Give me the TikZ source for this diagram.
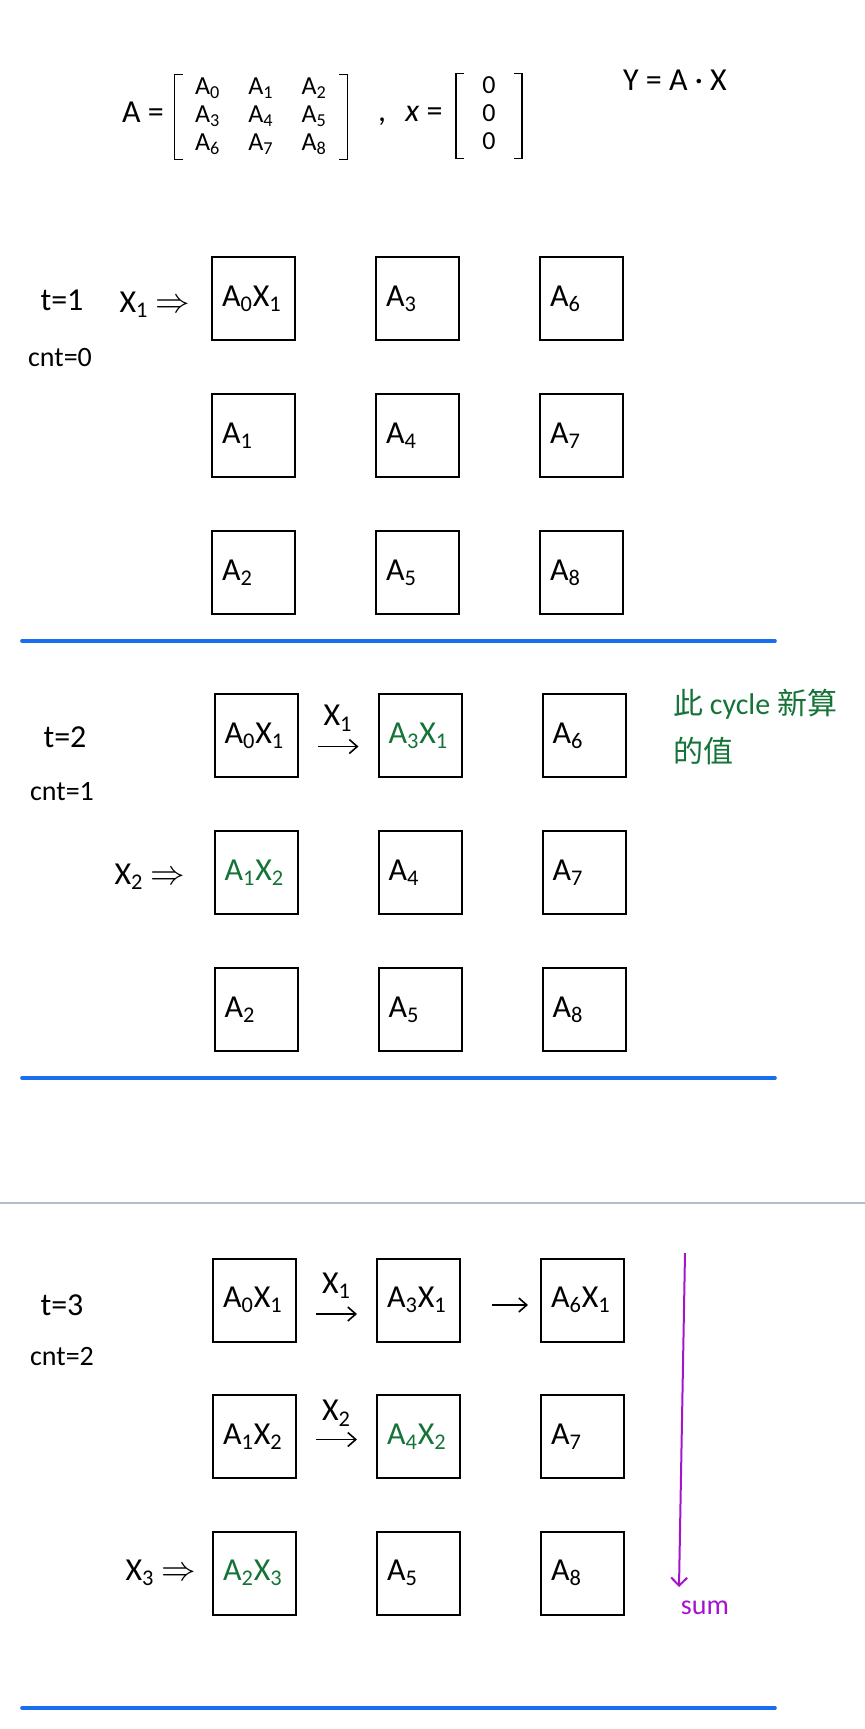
\documentclass[tikz,border=0pt]{standalone}
\usepackage{fontspec}
\setmainfont{Carlito}
\newfontfamily\cjkfont{Noto Sans CJK SC}
\usetikzlibrary{arrows.meta}
\definecolor{newgreen}{RGB}{20,115,55}
\definecolor{splitblue}{RGB}{25,110,240}
\definecolor{pagegray}{RGB}{175,188,205}
\definecolor{sumpurple}{RGB}{165,20,205}
\newcommand\Asub[1]{A\textsubscript{#1}}
\newcommand\Xsub[1]{X\textsubscript{#1}}
\newcommand\handfont{\fontsize{16}{19}\selectfont}
\newcommand\smallhand{\fontsize{14}{17}\selectfont}
\newcommand\matfont{\fontsize{13}{14}\selectfont}
\tikzset{cell/.style={draw,line width=1pt,minimum size=41.5pt,inner sep=5pt,
		text width=31.5pt,align=left,font=\handfont},
	hand/.style={font=\handfont},
	formula/.style={font=\handfont,inner sep=0pt},
	entries/.style={font=\matfont,inner xsep=3pt,inner ysep=0pt},
	bracket/.style={line width=0.8pt},
	flow/.style={-{Straight Barb[length=4pt,width=7pt]},line width=0.8pt,
		shorten <=9.5pt,shorten >=9.5pt},
	split/.style={draw=splitblue,line width=1.8pt,line cap=round}}
\begin{document}
\begin{tikzpicture}[x=0.5pt,y=-0.5pt]
	\useasboundingbox (0,0) rectangle (865,1729);
	% definitions
	\node[formula] (Adef) at (143,112) {A =};
	\node[entries] (Amat) at (261,117)
		{\setlength\tabcolsep{7pt}\begin{tabular}{ccc}
			\Asub{0} & \Asub{1} & \Asub{2}\\
			\Asub{3} & \Asub{4} & \Asub{5}\\
			\Asub{6} & \Asub{7} & \Asub{8}
		\end{tabular}};
	\draw[bracket] ([xshift=4pt]Amat.north west) -- (Amat.north west) -- (Amat.south west) -- ([xshift=4pt]Amat.south west);
	\draw[bracket] ([xshift=-4pt]Amat.north east) -- (Amat.north east) -- (Amat.south east) -- ([xshift=-4pt]Amat.south east);
	\node[formula] (comma) at (382,122) {,};
	\node[formula] (xdef) at (424,114) {\textit{x} =};
	\node[entries] (xvec) at (489,116)
		{\setlength\tabcolsep{10pt}\begin{tabular}{c}0\\0\\0\end{tabular}};
	\draw[bracket] ([xshift=4pt]xvec.north west) -- (xvec.north west) -- (xvec.south west) -- ([xshift=4pt]xvec.south west);
	\draw[bracket] ([xshift=-4pt]xvec.north east) -- (xvec.north east) -- (xvec.south east) -- ([xshift=-4pt]xvec.south east);
	\node[formula] (ydef) at (675,80) {Y = A · X};
	% t=1
	\node[hand] (t1) at (62,300) {t=1};
	\node[font=\smallhand] (n1) at (60,358) {cnt=0};
	\node[hand] (in1) at (155,305) {\Xsub{1} $\Rightarrow$};
	\foreach \k/\txt/\clr in {0/{\Asub{0}\Xsub{1}}/black,1/{\Asub{1}}/black,
		2/{\Asub{2}}/black,3/{\Asub{3}}/black,4/{\Asub{4}}/black,
		5/{\Asub{5}}/black,6/{\Asub{6}}/black,7/{\Asub{7}}/black,8/{\Asub{8}}/black}
		\node[cell,text=\clr] (a\k) at ({253.5+164*int(\k/3)},{298.5+137*mod(\k,3)}) {\txt};
	\draw[split] (22,641) -- (775,641);
	% t=2
	\node[hand] (t2) at (65,737) {t=2};
	\node[font=\smallhand] (n2) at (62,792) {cnt=1};
	\node[hand] (in2) at (150,877) {\Xsub{2} $\Rightarrow$};
	\foreach \k/\txt/\clr in {0/{\Asub{0}\Xsub{1}}/black,1/{\Asub{1}\Xsub{2}}/newgreen,
		2/{\Asub{2}}/black,3/{\Asub{3}\Xsub{1}}/newgreen,4/{\Asub{4}}/black,
		5/{\Asub{5}}/black,6/{\Asub{6}}/black,7/{\Asub{7}}/black,8/{\Asub{8}}/black}
		\node[cell,text=\clr] (b\k) at ({256+164*int(\k/3)},{735.5+137*mod(\k,3)}) {\txt};
	\draw[flow] ([yshift=-5.5pt]b0.east) -- node[above=4pt,hand]{\Xsub{1}} ([yshift=-5.5pt]b3.west);
	\node[text=newgreen,anchor=west,align=left,font=\fontsize{15}{24}\selectfont] (note) at (666,727)
		{{\cjkfont 此} cycle {\cjkfont 新算}\\{\cjkfont 的值}};
	\draw[split] (22,1078) -- (775,1078);
	\draw[pagegray,line width=1pt] (0,1203) -- (865,1203);
	% t=3
	\node[hand] (t3) at (62,1305) {t=3};
	\node[font=\smallhand] (n3) at (62,1357) {cnt=2};
	\node[hand] (in3) at (161,1573) {\Xsub{3} $\Rightarrow$};
	\foreach \k/\txt/\clr in {0/{\Asub{0}\Xsub{1}}/black,1/{\Asub{1}\Xsub{2}}/black,
		2/{\Asub{2}\Xsub{3}}/newgreen,3/{\Asub{3}\Xsub{1}}/black,4/{\Asub{4}\Xsub{2}}/newgreen,
		5/{\Asub{5}}/black,6/{\Asub{6}\Xsub{1}}/black,7/{\Asub{7}}/black,8/{\Asub{8}}/black}
		\node[cell,text=\clr] (c\k) at ({254.5+164*int(\k/3)},{1300+136.5*mod(\k,3)}) {\txt};
	\draw[flow] ([yshift=-7pt]c0.east) -- node[above=4pt,hand]{\Xsub{1}} ([yshift=-7pt]c3.west);
	\draw[flow] ([yshift=-1.5pt]c1.east) -- node[above=3pt,hand]{\Xsub{2}} ([yshift=-1.5pt]c4.west);
	\draw[flow,shorten <=15.5pt,shorten >=6pt] ([yshift=-2.5pt]c3.east) -- ([yshift=-2.5pt]c6.west);
	% sum
	\coordinate (sumtop) at (685,1253);
	\coordinate (sumend) at (679,1587);
	\node[text=sumpurple,font=\smallhand] (sum) at (705,1608) {sum};
	\draw[sumpurple,line width=1pt,-{Straight Barb[length=4pt,width=8pt]}] (sumtop) -- (sumend);
	\draw[split] (22,1708) -- (775,1708);
\end{tikzpicture}
\end{document}
